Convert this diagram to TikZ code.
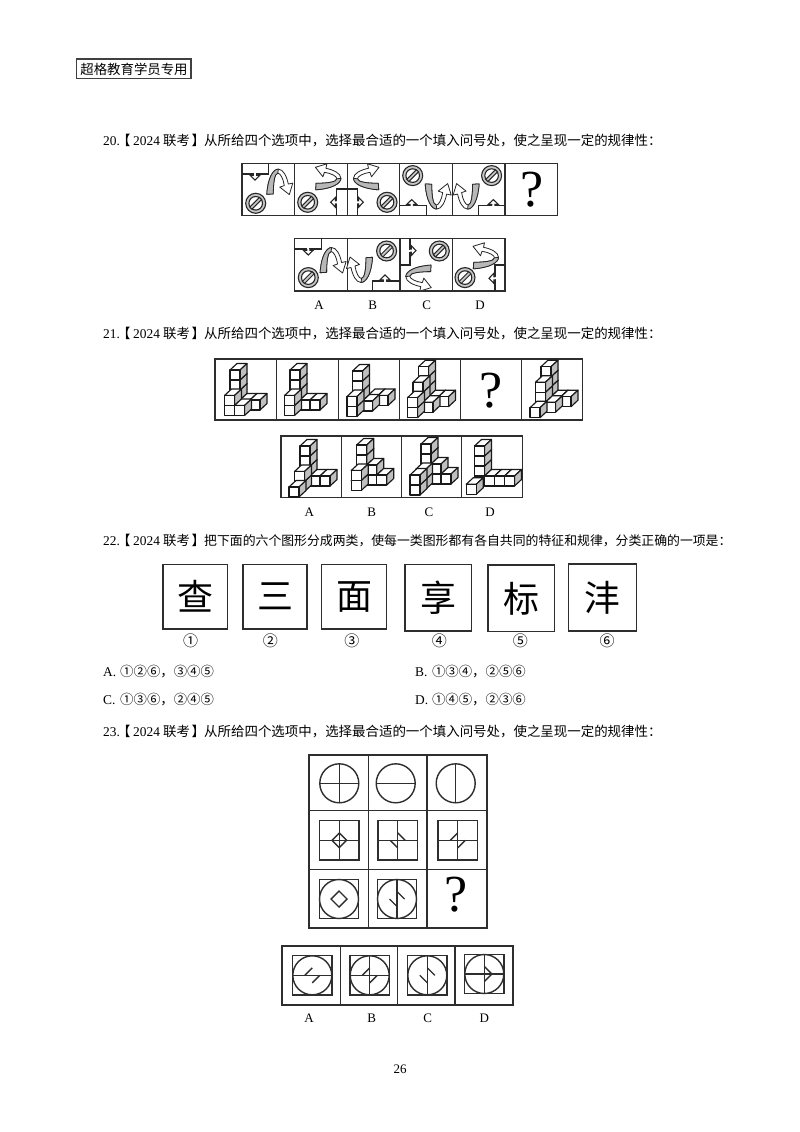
\documentclass[tikz,border=0pt]{standalone}
\usepackage{fontspec}
\setmainfont{Liberation Serif}
\newfontfamily\cjk{Noto Sans CJK SC}
\newcommand\fs[1]{\fontsize{#1}{#1}\selectfont}
\tikzset{
  txt/.style={anchor=base west,inner sep=0pt,font=\fs{13.4}},
  lab/.style={anchor=center,inner sep=0pt,font=\fs{13}},
  num/.style={anchor=center,inner sep=0pt,font=\cjk\fs{15}},
  qmark/.style={anchor=center,inner sep=0pt,font=\fs{52}},
  bigch/.style={anchor=center,inner sep=0pt,font=\cjk\fs{36}},
  frame/.style={draw=black!82,line width=1.4pt},
  outer/.style={draw=black!82,line width=1.7pt},
  thin line/.style={draw=black!85,line width=1.1pt},
  cubeface/.style={draw=black!90,line width=1.15pt,line join=round},
}
% question line: y, number, text, size
\newcommand\qline[4]{%
  \node[txt] (q#2n) at (103,#1) {#2.};
  \node[txt] (q#2l) at (117,#1) {\cjk 【};
  \node[txt] (q#2y) at (133,#1) {2024};
  \node[txt] (q#2k) at (163,#1) {\cjk 联考};
  \node[txt] (q#2r) at (191.5,#1) {\cjk 】};
  \node[txt,font=\cjk\fs{#4}] (q#2t) at (204,#1) {#3};
}
% screw: centre
\newcommand\screw[2]{%
  \begin{scope}[shift={(#1,#2)}]
    \draw[draw=black!85,line width=1.1pt,fill=black!22] (0,0) circle[radius=10pt];
    \draw[draw=black!85,line width=1.1pt,fill=white] (0,0) circle[radius=6.8pt];
    \draw[draw=black!85,line width=1pt,fill=black!22,rotate=45] (-6.8,-1.5) rectangle (6.8,1.5);
  \end{scope}}
% nub: point on edge, rotation (0 down, -90 left, 90 right, 180 up)
\newcommand\nub[3]{%
  \begin{scope}[shift={(#1,#2)},rotate=#3]
    \fill[white] (-1.1,-.8) rectangle (1.1,.8);
    \draw[thin line,fill=white] (-1.6,0)--(-1.6,1.2)--(-5,1.2)--(0,6)--(5,1.2)--(1.6,1.2)--(1.6,0);
  \end{scope}}
% curved arrow: centre, image of x unit, image of y unit
\newcommand\carr[6]{%
  \begin{scope}[shift={(#1,#2)},x={(#3*1pt,-1pt*#4)},y={(#5*1pt,-1pt*#6)}]
    \draw[draw=black!85,line width=.8pt,line join=round,fill=white]
      (-11.5,12.7) .. controls (-10.5,-4) and (-5,-12.5) .. (0,-12.5)
      .. controls (5,-12.5) and (8.5,-5) .. (10,2.5)
      -- (14.5,1.5) -- (11,13) -- (1.5,5.5) -- (6,4)
      .. controls (5,-3) and (2,-8.5) .. (-.5,-8.5)
      .. controls (-4,-8.5) and (-5,3) .. (-5,12.3) -- cycle;
    \draw[draw=black!85,line width=.8pt,line join=round,fill=black!28]
      (-11.5,12.7) .. controls (-10.5,-4) and (-5,-12.5) .. (0,-12.5)
      -- (-.5,-8.5) .. controls (-4,-8.5) and (-5,3) .. (-5,12.3) -- cycle;
  \end{scope}}
% cubes
\newcommand\cb[3]{%
  \pgfmathsetmacro\px{\bx+10*#1-5.5*#2}%
  \pgfmathsetmacro\py{\by-10*#3+5.5*#2}%
  \draw[cubeface,fill=white] (\px,\py-10)--(\px+10,\py-10)--(\px+17,\py-16.5)--(\px+7,\py-16.5)--cycle;
  \draw[cubeface,fill=black!25] (\px+10,\py)--(\px+17,\py-6.5)--(\px+17,\py-16.5)--(\px+10,\py-10)--cycle;
  \draw[cubeface,fill=white] (\px,\py) rectangle (\px+10,\py-10);
}
\newcommand\cbs[3]{%
  \def\bx{#1}\def\by{#2}%
  \foreach \i/\j/\k in {#3}{\cb{\i}{\j}{\k}}}
% Q23 parts
\newcommand\qsq[3]{\draw[frame] (#1-19.6,#2-19.6) rectangle (#1+19.6,#2+19.6);}
\newcommand\qci[2]{\draw[frame] (#1,#2) circle[radius=19.5pt];}
\newcommand\qh[2]{\draw[frame] (#1-19.5,#2) -- (#1+19.5,#2);}
\newcommand\qv[2]{\draw[frame] (#1,#2-19.5) -- (#1,#2+19.5);}
\newcommand\sNE[2]{\draw[frame] (#1,#2-7.5) -- (#1+7.5,#2);}
\newcommand\sSW[2]{\draw[frame] (#1-7.5,#2) -- (#1,#2+7.5);}
\newcommand\sNW[2]{\draw[frame] (#1-7.5,#2) -- (#1,#2-7.5);}
\newcommand\sSE[2]{\draw[frame] (#1,#2+7.5) -- (#1+7.5,#2);}
\begin{document}
\begin{tikzpicture}[x=1pt,y=-1pt]
\useasboundingbox (0,0) rectangle (800,1132);
\fill[white] (0,0) rectangle (800,1132);
% header
\draw[draw=black!75,line width=1.1pt] (76.7,59) rectangle (191,78.3);
\node[lab,font=\cjk\fs{13.4}] (head) at (134,69) {超格教育学员专用};
% question lines
\qline{145}{20}{从所给四个选项中，选择最合适的一个填入问号处，使之呈现一定的规律性：}{13.45}
\qline{338}{21}{从所给四个选项中，选择最合适的一个填入问号处，使之呈现一定的规律性：}{13.45}
\qline{545}{22}{把下面的六个图形分成两类，使每一类图形都有各自共同的特征和规律，分类正确的一项是：}{12.86}
\qline{736}{23}{从所给四个选项中，选择最合适的一个填入问号处，使之呈现一定的规律性：}{13.45}
% Q20 strip
\foreach \x in {294.7,347.3,399.7,452.3,505}{\draw[frame] (\x,163.3) -- (\x,215.7);}
\draw[frame] (242,163.3) rectangle (557.7,215.7);
% cell 1
\draw[thin line] (242,174) -- (268.3,174) -- (268.3,163.3);
\nub{255}{174}{0}
\carr{278.3}{181.6}{1}{0}{0}{1}
\screw{255.7}{203.3}
% cell 2
\draw[thin line] (336.7,215.7) -- (336.7,189) -- (347.3,189);
\nub{336.7}{202.3}{-90}
\carr{328.4}{178.3}{0}{-1}{-1}{0}
\screw{307.7}{202.3}
% cell 3
\draw[thin line] (357.3,215.7) -- (357.3,189) -- (347.3,189);
\nub{357.3}{202.3}{90}
\carr{366}{178.3}{0}{-1}{1}{0}
\screw{387}{202.3}
% cell 4
\draw[thin line] (399.7,205.6) -- (426.4,205.6) -- (426.4,215.7);
\nub{411.7}{205.6}{180}
\carr{436.7}{196.6}{1}{0}{0}{-1}
\screw{412.7}{175.6}
% cell 5
\draw[thin line] (478.3,215.7) -- (478.3,205.6) -- (505,205.6);
\nub{493.3}{205.6}{180}
\carr{467.6}{196.6}{-1}{0}{0}{-1}
\screw{491.6}{175.6}
\node[qmark] (qa) at (531.7,190) {?};
% Q20 options
\foreach \x in {347.3,400,452.3}{\draw[frame] (\x,238.3) -- (\x,291);}
\draw[frame] (294.3,238.3) rectangle (505,291);
\draw[thin line] (294.3,249) -- (321.6,249) -- (321.6,238.3);
\nub{308.3}{249}{0}
\carr{331.6}{260}{1}{0}{0}{1}
\screw{308.3}{277.6}
\draw[thin line] (372.6,291) -- (372.6,281) -- (400,281);
\nub{385}{281}{180}
\carr{361}{270}{-1}{0}{0}{-1}
\screw{386.6}{251}
\draw[thin line] (410,238.3) -- (410,265) -- (400,265);
\nub{410}{250.6}{90}
\carr{418.3}{276.6}{0}{1}{1}{0}
\screw{439.3}{251}
\draw[thin line] (495,291) -- (495,265) -- (505,265);
\nub{495}{278.3}{-90}
\carr{486}{257.3}{0}{-1}{-1}{0}
\screw{465}{277.6}
\node[lab] (a1) at (319,305) {A};
\node[lab] (b1) at (372.7,305) {B};
\node[lab] (c1) at (426.7,305) {C};
\node[lab] (d1) at (480,305) {D};
% Q21 strip
\foreach \x in {276.7,338.3,399.3,460.7,521.7}{\draw[frame] (\x,359) -- (\x,420);}
\draw[frame] (215,359) rectangle (582.7,420);
\cbs{230}{410}{0/0/0,0/0/1,0/0/2,0/0/3,1/0/0,2/0/0,0/1/0,0/1/1,1/1/0}
\cbs{290}{410}{0/0/0,0/0/1,0/0/2,0/0/3,1/0/0,2/0/0,0/1/0,0/1/1}
\cbs{352.5}{411}{1/-1/0,2/-1/0,0/0/0,0/0/1,0/0/2,0/0/3,1/0/0,0/1/0,0/1/1}
\cbs{418.5}{406.7}{0/0/0,0/0/1,0/0/2,0/0/3,1/0/0,2/0/0,0/1/0,0/1/1,0/1/2,1/1/0,0/2/0,0/2/1}
\node[qmark] (qb) at (491,391) {?};
\cbs{541}{406.7}{0/0/0,0/0/1,0/0/2,0/0/3,1/0/0,2/0/0,0/1/0,0/1/1,0/1/2,1/1/0,0/2/0}
% Q21 options
\foreach \x in {341.7,401.7,461.7}{\draw[frame] (\x,436) -- (\x,497.7);}
\draw[frame] (281,436) rectangle (522.3,497.7);
\cbs{300}{486}{0/0/0,0/0/1,0/0/2,0/0/3,1/0/0,2/0/0,0/1/0,0/1/1,0/2/0}
\cbs{356.7}{485}{0/0/0,0/0/1,0/0/2,0/0/3,1/0/0,1/0/1,2/0/0,0/1/0,0/1/1}
\cbs{421}{484}{0/0/0,0/0/1,0/0/2,0/0/3,1/0/0,1/0/1,2/0/0,0/1/0,0/1/1,0/2/0,0/2/1}
\cbs{474.5}{486}{0/0/0,0/0/1,0/0/2,0/0/3,1/0/0,2/0/0,3/0/0,0/1.5/0}
\node[lab] (a2) at (309.3,512.3) {A};
\node[lab] (b2) at (371.7,512.3) {B};
\node[lab] (c2) at (429,512.3) {C};
\node[lab] (d2) at (490,512.3) {D};
% Q22
\draw[frame] (163,564.3) rectangle (227.5,629);
\draw[frame] (242.9,564.3) rectangle (307,629);
\draw[frame] (321.4,564.3) rectangle (386.4,629);
\draw[frame] (405,564.3) rectangle (471.4,631);
\draw[frame] (487.9,565) rectangle (554.3,631.7);
\draw[frame] (568.6,564) rectangle (636.4,631);
\node[bigch] (ch1) at (195.2,596.6) {查};
\node[bigch] (ch2) at (275,596.6) {三};
\node[bigch] (ch3) at (354,596.6) {面};
\node[bigch] (ch4) at (438.2,597.6) {享};
\node[bigch] (ch5) at (521,598.3) {标};
\node[bigch] (ch6) at (602.5,597.5) {沣};
\node[num] (n1) at (190.7,641) {①};
\node[num] (n2) at (270.4,641) {②};
\node[num] (n3) at (351.8,641) {③};
\node[num] (n4) at (439.3,641) {④};
\node[num] (n5) at (520.4,641) {⑤};
\node[num] (n6) at (607,641) {⑥};
\node[txt] (oa) at (103,676) {A.};
\node[txt,font=\cjk\fs{13.4}] (oat) at (120,676) {①②⑥，③④⑤};
\node[txt] (ob) at (415,676) {B.};
\node[txt,font=\cjk\fs{13.4}] (obt) at (431.8,676) {①③④，②⑤⑥};
\node[txt] (oc) at (103,704.5) {C.};
\node[txt,font=\cjk\fs{13.4}] (oct) at (120,704.5) {①③⑥，②④⑤};
\node[txt] (od) at (415,704.5) {D.};
\node[txt,font=\cjk\fs{13.4}] (odt) at (431.8,704.5) {①④⑤，②③⑥};
% Q23 grid
\draw[frame] (368.3,754.7) -- (368.3,928.3);
\draw[frame] (427,754.7) -- (427,928.3);
\draw[frame] (309,810.7) -- (486.7,810.7);
\draw[frame] (309,869.3) -- (486.7,869.3);
\draw[outer] (309,754.7) rectangle (486.7,928.3);
% row 1
\qci{339.3}{783.3}\qh{339.3}{783.3}\qv{339.3}{783.3}
\qci{395.7}{783.3}\qh{395.7}{783.3}
\qci{455.7}{783.3}\qv{455.7}{783.3}
% row 2
\qsq{339.3}{840.3}{}\qh{339.3}{840.3}\qv{339.3}{840.3}
\draw[frame] (339.3,833) -- (346.6,840.3) -- (339.3,847.6) -- (332,840.3) -- cycle;
\qsq{397.7}{840.3}{}\qh{397.7}{840.3}\qv{397.7}{840.3}\sNE{397.7}{840.3}\sSW{397.7}{840.3}
\qsq{457.7}{840.3}{}\qh{457.7}{840.3}\qv{457.7}{840.3}\sNW{457.7}{840.3}\sSE{457.7}{840.3}
% row 3
\qsq{339}{899}{}\qci{339}{899}
\draw[frame] (339,891) -- (347,899) -- (339,907) -- (331,899) -- cycle;
\qsq{397}{899}{}\qci{397}{899}\qv{397}{899}\sNE{397}{899}\sSW{397}{899}
\node[qmark] (qc) at (455.7,895) {?};
% Q23 options
\foreach \x in {340.3,397.7,455}{\draw[frame] (\x,946) -- (\x,1005);}
\draw[outer] (282.3,946) rectangle (513,1005);
\qsq{312.3}{975.3}{}\qci{312.3}{975.3}\qh{312.3}{975.3}\sNW{312.3}{975.3}\sSE{312.3}{975.3}
\qsq{369.7}{975.3}{}\qci{369.7}{975.3}\qh{369.7}{975.3}\qv{369.7}{975.3}\sNW{369.7}{975.3}\sSE{369.7}{975.3}
\qsq{427.3}{975.3}{}\qci{427.3}{975.3}\qv{427.3}{975.3}\sNE{427.3}{975.3}\sSW{427.3}{975.3}
\qsq{484.3}{974}{}\qci{484.3}{974}\qh{484.3}{974}\qv{484.3}{974}\sNE{484.3}{974}\sSE{484.3}{974}
\node[lab] (a3) at (309,1018.3) {A};
\node[lab] (b3) at (371.7,1018.3) {B};
\node[lab] (c3) at (427.7,1018.3) {C};
\node[lab] (d3) at (484.3,1018.3) {D};
\node[lab] (page) at (400,1069) {26};
\end{tikzpicture}
\end{document}
